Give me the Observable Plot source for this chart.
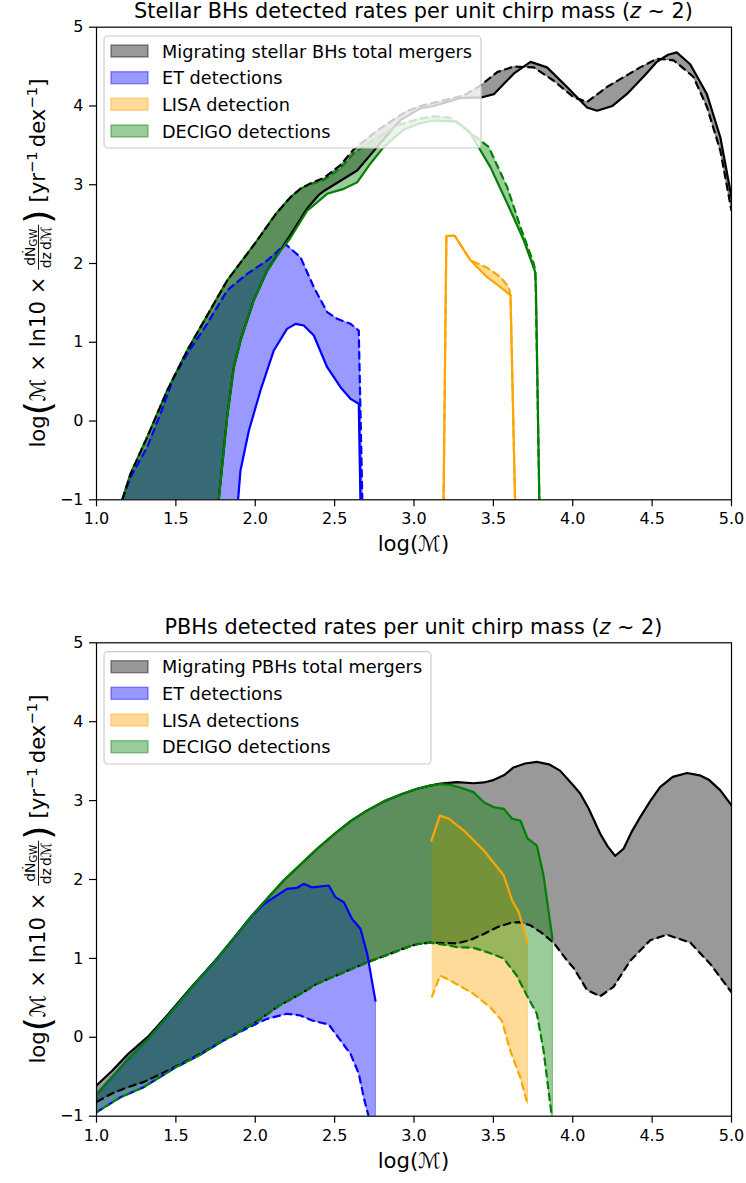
<!DOCTYPE html>
<html><head><meta charset="utf-8">
<script src="https://cdn.jsdelivr.net/npm/d3@7"></script>
<script src="https://cdn.jsdelivr.net/npm/@observablehq/plot@0.6"></script>
<style>
body{margin:0;background:#fff;}
#chart{width:746px;}
#chart svg{display:block;}
</style></head><body><div id="chart"></div>
<script>
// ---------- tick labels ----------
const xTicks = [1.0, 1.5, 2.0, 2.5, 3.0, 3.5, 4.0, 4.5, 5.0];
const yTicks = [-1, 0, 1, 2, 3, 4, 5];

// ---------- legend labels ----------
const topLegend = ["Migrating stellar BHs total mergers", "ET detections", "LISA detection", "DECIGO detections"];
const botLegend = ["Migrating PBHs total mergers", "ET detections", "LISA detections", "DECIGO detections"];

// ---------- top panel: stellar BHs  [logM, value] ----------
const sBlackDashed = [[1.162,-1],[1.214,-0.67],[1.319,-0.205],[1.445,0.387],[1.571,0.895],[1.739,1.488],[1.823,1.784],[2.0,2.26],[2.13,2.63],[2.222,2.842],[2.285,2.95],[2.35,3.02],[2.432,3.085],[2.537,3.25],[2.621,3.45],[2.768,3.688],[2.894,3.857],[2.955,3.935],[3.04,4.0],[3.165,4.06],[3.31,4.13],[3.419,4.26],[3.524,4.43],[3.628,4.50],[3.754,4.49],[3.88,4.32],[4.006,4.11],[4.09,4.05],[4.215,4.24],[4.425,4.49],[4.53,4.60],[4.635,4.58],[4.76,4.37],[4.845,3.99],[4.93,3.43],[5.0,2.67]];
const sBlackSolid = [[1.77,-1],[1.823,0.05],[1.865,0.68],[1.907,1.02],[1.99,1.53],[2.075,1.91],[2.159,2.17],[2.24,2.42],[2.327,2.70],[2.40,2.87],[2.432,2.92],[2.537,3.05],[2.642,3.18],[2.747,3.43],[2.852,3.68],[2.915,3.82],[3.04,3.97],[3.125,4.0],[3.29,4.1],[3.43,4.11],[3.503,4.15],[3.628,4.41],[3.734,4.56],[3.838,4.49],[3.964,4.24],[4.09,3.98],[4.153,3.94],[4.25,4.0],[4.34,4.15],[4.45,4.38],[4.53,4.56],[4.6,4.65],[4.655,4.68],[4.74,4.53],[4.845,4.15],[4.93,3.60],[5.0,2.84]];
const sGreenDashed = [[1.162,-1],[1.214,-0.67],[1.319,-0.205],[1.445,0.387],[1.571,0.895],[1.739,1.488],[1.823,1.784],[2.0,2.26],[2.13,2.63],[2.222,2.842],[2.285,2.95],[2.35,3.01],[2.432,3.06],[2.537,3.21],[2.621,3.40],[2.768,3.60],[2.915,3.77],[3.04,3.84],[3.125,3.87],[3.23,3.85],[3.314,3.73],[3.419,3.56],[3.47,3.48],[3.587,2.97],[3.671,2.46],[3.754,2.0],[3.765,1.9],[3.79,-1.05]];
const sGreenSolid = [[1.77,-1],[1.823,0.05],[1.865,0.68],[1.907,1.02],[1.99,1.53],[2.075,1.91],[2.159,2.16],[2.22,2.32],[2.327,2.67],[2.453,2.885],[2.558,2.948],[2.642,3.03],[2.726,3.27],[2.81,3.48],[2.936,3.70],[3.04,3.78],[3.125,3.815],[3.272,3.80],[3.356,3.65],[3.419,3.434],[3.482,3.22],[3.608,2.673],[3.692,2.29],[3.762,1.90],[3.768,1.70],[3.79,-1.05]];
const sBlueDashed = [[1.162,-1],[1.214,-0.713],[1.319,-0.332],[1.403,0.092],[1.487,0.556],[1.571,0.853],[1.697,1.234],[1.823,1.657],[1.949,1.869],[2.075,2.038],[2.19,2.245],[2.285,2.08],[2.369,1.70],[2.453,1.382],[2.516,1.298],[2.60,1.234],[2.652,1.149],[2.675,-1.05]];
const sBlueSolid = [[1.89,-1.05],[1.907,-0.628],[1.96,-0.12],[2.033,0.388],[2.117,0.896],[2.2,1.17],[2.254,1.234],[2.306,1.213],[2.369,1.086],[2.453,0.683],[2.537,0.43],[2.60,0.282],[2.652,0.219],[2.663,-1.05]];
const sOrangeDashed = [[3.186,-1.05],[3.204,2.35],[3.257,2.35],[3.356,2.04],[3.40,2.0],[3.461,1.945],[3.545,1.826],[3.597,1.70],[3.608,1.594],[3.637,-1.05]];
const sOrangeSolid = [[3.186,-1.05],[3.204,2.35],[3.257,2.35],[3.356,2.04],[3.40,1.95],[3.461,1.826],[3.545,1.70],[3.608,1.594],[3.637,-1.05]];

// ---------- bottom panel: PBHs ----------
const pBlackSolid = [[1.0,-0.61],[1.1,-0.42],[1.2,-0.21],[1.33,0.02],[1.45,0.29],[1.6,0.64],[1.76,1.0],[1.87,1.27],[1.97,1.52],[2.08,1.77],[2.18,1.99],[2.29,2.20],[2.39,2.39],[2.5,2.58],[2.6,2.74],[2.7,2.87],[2.81,2.99],[2.92,3.08],[3.02,3.15],[3.1,3.19],[3.167,3.215],[3.27,3.235],[3.375,3.22],[3.44,3.23],[3.5,3.26],[3.566,3.32],[3.627,3.42],[3.7,3.47],[3.774,3.49],[3.85,3.46],[3.92,3.38],[4.0,3.2],[4.047,3.09],[4.1,2.9],[4.173,2.58],[4.22,2.42],[4.267,2.30],[4.32,2.39],[4.37,2.6],[4.425,2.79],[4.49,3.0],[4.55,3.17],[4.63,3.30],[4.72,3.35],[4.8,3.32],[4.86,3.26],[4.93,3.13],[5.0,2.94]];
const pBlackDashed = [[1.0,-0.82],[1.1,-0.71],[1.2,-0.63],[1.3,-0.565],[1.4,-0.47],[1.5,-0.37],[1.655,-0.21],[1.8,-0.04],[1.995,0.18],[2.15,0.40],[2.285,0.55],[2.39,0.68],[2.495,0.77],[2.6,0.86],[2.705,0.95],[2.8,1.02],[2.955,1.14],[3.02,1.18],[3.1,1.20],[3.2,1.195],[3.27,1.19],[3.35,1.23],[3.44,1.31],[3.53,1.40],[3.608,1.45],[3.66,1.46],[3.732,1.42],[3.8,1.33],[3.879,1.20],[3.965,0.97],[4.005,0.88],[4.09,0.60],[4.173,0.52],[4.257,0.64],[4.362,0.97],[4.488,1.23],[4.593,1.30],[4.74,1.2],[4.866,0.93],[5.0,0.57]];
const pGreenSolid = [[1.0,-0.72],[1.1,-0.5],[1.2,-0.27],[1.33,-0.01],[1.45,0.27],[1.6,0.63],[1.76,1.0],[1.87,1.27],[1.97,1.52],[2.08,1.77],[2.18,1.99],[2.29,2.20],[2.39,2.39],[2.5,2.58],[2.6,2.74],[2.7,2.87],[2.81,2.99],[2.92,3.08],[3.02,3.15],[3.1,3.19],[3.167,3.21],[3.23,3.20],[3.3,3.16],[3.375,3.107],[3.44,2.98],[3.503,2.916],[3.566,2.896],[3.618,2.77],[3.67,2.748],[3.715,2.52],[3.774,2.43],[3.816,2.05],[3.872,1.25]];
const pGreenDashed = [[1.0,-0.95],[1.151,-0.76],[1.298,-0.632],[1.5,-0.38],[1.655,-0.22],[1.8,-0.04],[1.995,0.18],[2.15,0.40],[2.285,0.55],[2.39,0.68],[2.495,0.77],[2.6,0.86],[2.705,0.95],[2.8,1.02],[2.955,1.14],[3.02,1.18],[3.1,1.20],[3.2,1.17],[3.27,1.142],[3.375,1.134],[3.46,1.08],[3.564,1.0],[3.648,0.78],[3.711,0.53],[3.774,0.298],[3.816,-0.167],[3.867,-0.99],[3.872,-1.3]];
const pBlueSolid = [[1.0,-0.72],[1.1,-0.5],[1.2,-0.27],[1.33,-0.01],[1.45,0.27],[1.6,0.63],[1.76,1.0],[1.87,1.27],[1.97,1.52],[2.054,1.69],[2.2,1.882],[2.264,1.895],[2.306,1.945],[2.358,1.90],[2.463,1.924],[2.505,1.776],[2.558,1.712],[2.61,1.50],[2.663,1.375],[2.705,1.06],[2.757,0.466]];
const pBlueDashed = [[1.0,-0.95],[1.151,-0.76],[1.298,-0.632],[1.5,-0.38],[1.655,-0.22],[1.8,-0.04],[1.995,0.16],[2.075,0.234],[2.2,0.298],[2.285,0.276],[2.358,0.213],[2.463,0.162],[2.537,-0.04],[2.6,-0.21],[2.652,-0.46],[2.683,-0.76],[2.715,-1.01],[2.757,-1.6]];
const pOrangeSolid = [[3.11,2.494],[3.163,2.81],[3.22,2.77],[3.314,2.62],[3.44,2.367],[3.566,2.05],[3.618,1.734],[3.66,1.586],[3.713,1.205]];
const pOrangeDashed = [[3.112,0.508],[3.165,0.783],[3.228,0.72],[3.375,0.551],[3.48,0.381],[3.553,0.213],[3.606,-0.167],[3.669,-0.506],[3.715,-0.843]];

// ---------- styles ----------
const C = {k: "#000000", b: "#0000ff", o: "#ffa500", g: "#008000"};
const FONT = "'DejaVu Sans', sans-serif";
const TICK = 16, LEG = 17.7, TITLE = 20.8, LAB = 21.2;
const fmtY = d => d < 0 ? "\u2212" + Math.abs(d) : String(d);
const toPts = a => a.map(([x, y]) => ({x, y}));
const poly = (u, l) => toPts(u.concat(l.slice().reverse()));

const container = document.getElementById("chart");

function addText(g, str, u, v, size, opts = {}) {
  const t = g.append("text").attr("x", u).attr("y", v).attr("font-size", size)
    .attr("font-family", FONT).attr("fill", "black").attr("text-anchor", "start").text(str);
  if (opts.italic) t.attr("font-style", "italic");
  return t.node().getComputedTextLength();
}

function makePanel(cfg) {
  const marks = [];
  for (const f of cfg.fills) {
    marks.push(Plot.line(poly(f.upper, f.lower), {x: "x", y: "y", fill: f.color, fillOpacity: 0.4,
      stroke: f.color, strokeOpacity: 0.4, strokeWidth: 1, clip: true}));
  }
  for (const l of cfg.lines) {
    marks.push(Plot.line(toPts(l.data), {x: "x", y: "y", stroke: l.color, strokeWidth: 2.2,
      strokeDasharray: l.dashed ? "8.2,3.6" : undefined, strokeDashoffset: l.offset || 0,
      strokeLinecap: l.dashed ? "butt" : "square", strokeLinejoin: "round", clip: true}));
  }
  marks.push(Plot.frame({stroke: "black", strokeWidth: 1.2}));
  marks.push(Plot.axisX({ticks: xTicks, tickFormat: d3.format(".1f"), tickSize: 7, tickPadding: 6, strokeWidth: 1.2, fontSize: TICK, label: null}));
  marks.push(Plot.axisY({ticks: yTicks, tickFormat: fmtY, tickSize: 7, tickPadding: 6, strokeWidth: 1.2, fontSize: TICK, label: null}));

  const node = Plot.plot({
    width: 746, height: cfg.H,
    marginLeft: 96, marginRight: 15, marginTop: cfg.mt, marginBottom: cfg.mb,
    style: {fontFamily: FONT, fontSize: TICK + "px", color: "black", background: "white", overflow: "visible"},
    x: {domain: [1, 5]},
    y: {domain: [-1, 5]},
    marks
  });
  container.appendChild(node);
  const svg = d3.select(node);
  const top = cfg.mt, bottom = cfg.H - cfg.mb, cx = (96 + 731) / 2;

  // title
  const tt = svg.append("text").attr("x", cx).attr("y", top - 8.5).attr("text-anchor", "middle")
    .attr("font-family", FONT).attr("font-size", TITLE).attr("fill", "black");
  tt.append("tspan").text(cfg.title[0]);
  tt.append("tspan").attr("font-style", "italic").text(cfg.title[1]);
  tt.append("tspan").text(cfg.title[2]);

  // x label
  const xl = svg.append("text").attr("x", cx).attr("y", bottom + 52).attr("text-anchor", "middle")
    .attr("font-family", FONT).attr("font-size", LAB).attr("fill", "black");
  xl.append("tspan").text("log(");
  xl.append("tspan").attr("font-style", "italic").text("\u2133");
  xl.append("tspan").text(")");

  // y label (rotated, built piece by piece)
  const F = LAB, fs = 14;
  const outer = svg.append("g").attr("transform", `translate(45,${(top + bottom) / 2}) rotate(-90)`);
  const g = outer.append("g");
  let u = 0;
  u += addText(g, "log", u, 0, F);
  u += addText(g, "(", u, 5, F * 1.7);
  u += addText(g, "\u2133 \u00d7 ln10 \u00d7 ", u, 0, F);
  // fraction
  const ng = g.append("g");
  let nw = addText(ng, "d\u1E44", 0, -10, fs);
  nw += addText(ng, "GW", nw, -8, fs * 0.72);
  const dg = g.append("g");
  let dw = addText(dg, "dz", 0, 6, fs);
  dw += 2;
  dw += addText(dg, "d\u2133", dw, 6, fs);
  const fw = Math.max(nw, dw) + 3;
  ng.attr("transform", `translate(${u + (fw - nw) / 2},0)`);
  dg.attr("transform", `translate(${u + (fw - dw) / 2},0)`);
  g.append("line").attr("x1", u).attr("x2", u + fw).attr("y1", -6.5).attr("y2", -6.5)
    .attr("stroke", "black").attr("stroke-width", 0.9);
  u += fw + 1;
  u += addText(g, ")", u, 5, F * 1.7);
  u += 7;
  u += addText(g, "[yr", u, 0, F);
  u += addText(g, "\u22121", u, -8, F * 0.7);
  u += 4;
  u += addText(g, "dex", u, 0, F);
  u += addText(g, "\u22121", u, -8, F * 0.7);
  u += addText(g, "]", u, 0, F);
  g.attr("transform", `translate(${-u / 2},0)`);

  // legend
  const b = cfg.box;
  const lg = svg.append("g");
  lg.append("rect").attr("x", b.x).attr("y", b.y).attr("width", b.w).attr("height", b.h).attr("rx", 4)
    .attr("fill", "white").attr("fill-opacity", 0.8).attr("stroke", "#cccccc").attr("stroke-width", 1.2);
  const lc = [C.k, C.b, C.o, C.g];
  cfg.legend.forEach((lab, i) => {
    const cy = cfg.rows[i];
    lg.append("rect").attr("x", 111).attr("y", cy - 6).attr("width", 37).attr("height", 12)
      .attr("fill", lc[i]).attr("fill-opacity", 0.4).attr("stroke", lc[i]).attr("stroke-opacity", 0.4).attr("stroke-width", 1.5);
    addText(lg, lab, 162, cy + 6.5, LEG);
  });
}

makePanel({
  H: 592, mt: 26.7, mb: 92.7,
  title: ["Stellar BHs detected rates per unit chirp mass (", "z", " \u223c 2)"],
  fills: [
    {upper: sBlackDashed, lower: sBlackSolid, color: C.k},
    {upper: sBlueDashed, lower: sBlueSolid, color: C.b},
    {upper: sOrangeDashed, lower: sOrangeSolid, color: C.o},
    {upper: sGreenDashed, lower: sGreenSolid, color: C.g}
  ],
  lines: [
    {data: sBlackSolid, color: C.k},
    {data: sBlueSolid, color: C.b},
    {data: sBlueDashed, color: C.b, dashed: true},
    {data: sOrangeSolid, color: C.o},
    {data: sOrangeDashed, color: C.o, dashed: true},
    {data: sGreenDashed, color: C.g, dashed: true, offset: 5},
    {data: sBlackDashed, color: C.k, dashed: true},
    {data: sGreenSolid, color: C.g}
  ],
  legend: topLegend,
  box: {x: 104, y: 36, w: 377, h: 112},
  rows: [51, 77.7, 104.3, 131]
});

makePanel({
  H: 591, mt: 50.3, mb: 67.3,
  title: ["PBHs detected rates per unit chirp mass (", "z", " \u223c 2)"],
  fills: [
    {upper: pBlackSolid, lower: pBlackDashed, color: C.k},
    {upper: pBlueSolid, lower: pBlueDashed, color: C.b},
    {upper: pOrangeSolid, lower: pOrangeDashed, color: C.o},
    {upper: pGreenSolid, lower: pGreenDashed, color: C.g}
  ],
  lines: [
    {data: pBlackSolid, color: C.k},
    {data: pBlackDashed, color: C.k, dashed: true},
    {data: pBlueSolid, color: C.b},
    {data: pBlueDashed, color: C.b, dashed: true},
    {data: pOrangeSolid, color: C.o},
    {data: pOrangeDashed, color: C.o, dashed: true},
    {data: pGreenSolid, color: C.g},
    {data: pGreenDashed, color: C.g, dashed: true, offset: 5}
  ],
  legend: botLegend,
  box: {x: 104, y: 59.7, w: 327, h: 112.3},
  rows: [74.7, 101.3, 128, 154.7]
});
</script></body></html>
